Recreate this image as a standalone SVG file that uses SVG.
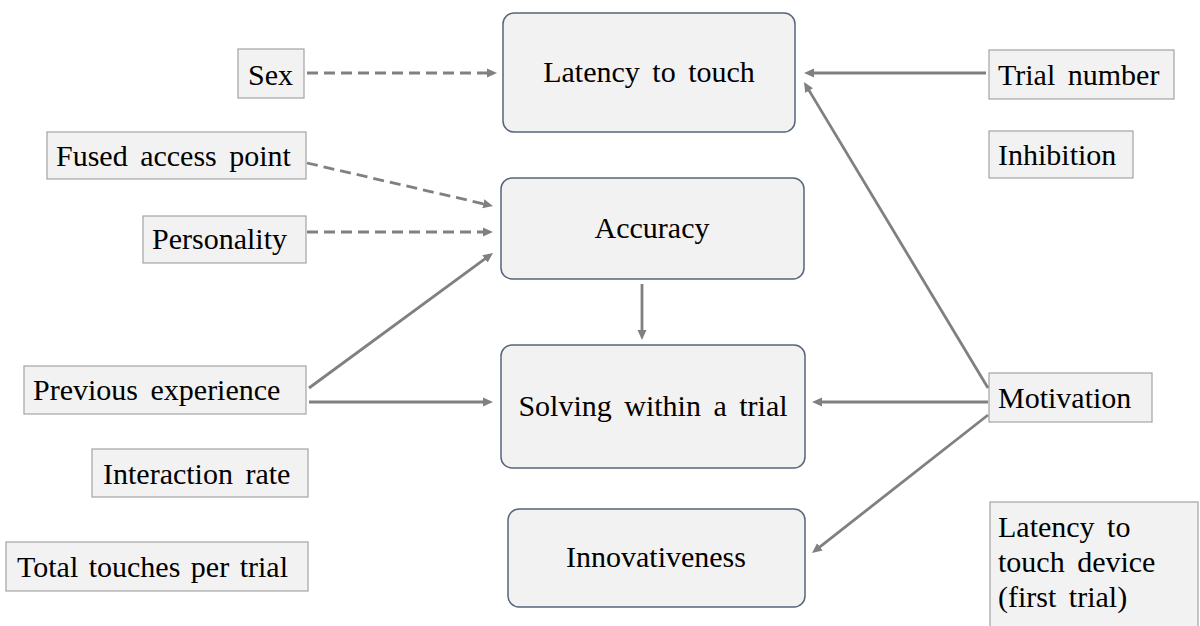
<svg xmlns="http://www.w3.org/2000/svg" width="1200" height="626" viewBox="0 0 1200 626">
  <style>
    text { font-family: 'Times New Roman', 'Liberation Serif', serif; font-size: 30px; fill: #000; word-spacing: 5px; }
    .main rect { fill: #f2f2f2; stroke: #56657a; stroke-width: 1.5; }
    .main text { text-anchor: middle; }
    .var rect { fill: #f2f2f2; stroke: #a3a3a3; stroke-width: 1.2; }
    .edge { stroke: #808080; stroke-width: 2.8; fill: none; marker-end: url(#head); }
    .dash { stroke-dasharray: 11 6; }
    .tight { word-spacing: 3px; }
  </style>
  <defs>
    <marker id="head" markerUnits="userSpaceOnUse" markerWidth="11" markerHeight="10" refX="2" refY="5" orient="auto">
      <path d="M0,0.5 L10,5 L0,9.5 z" fill="#808080"/>
    </marker>
  </defs>

  <rect width="1200" height="626" fill="#ffffff"/>

  <!-- outcome boxes -->
  <g id="latency" class="main">
    <rect x="503" y="13" width="292" height="119" rx="11"/>
    <text x="649" y="82">Latency to touch</text>
  </g>
  <g id="accuracy" class="main">
    <rect x="501" y="178" width="303" height="101" rx="11"/>
    <text x="652" y="238">Accuracy</text>
  </g>
  <g id="solving" class="main">
    <rect x="501" y="345" width="304" height="123" rx="11"/>
    <text x="653" y="416">Solving within a trial</text>
  </g>
  <g id="innovativeness" class="main">
    <rect x="508" y="509" width="297" height="98" rx="11"/>
    <text x="656" y="567">Innovativeness</text>
  </g>

  <!-- predictor boxes, left -->
  <g id="sex" class="var">
    <rect x="238" y="49" width="66" height="49"/>
    <text x="248" y="85">Sex</text>
  </g>
  <g id="fused" class="var">
    <rect x="47" y="132" width="259" height="47"/>
    <text x="56" y="166">Fused access point</text>
  </g>
  <g id="personality" class="var">
    <rect x="143" y="216" width="163" height="47"/>
    <text x="152" y="249">Personality</text>
  </g>
  <g id="previous" class="var">
    <rect x="24" y="366" width="282" height="48"/>
    <text x="33" y="400">Previous experience</text>
  </g>
  <g id="interaction" class="var">
    <rect x="92" y="449" width="216" height="48"/>
    <text x="103" y="484">Interaction rate</text>
  </g>
  <g id="touches" class="var">
    <rect x="6" y="542" width="302" height="49"/>
    <text class="tight" x="17" y="577">Total touches per trial</text>
  </g>

  <!-- predictor boxes, right -->
  <g id="trial" class="var">
    <rect x="989" y="50" width="185" height="49"/>
    <text x="998" y="85">Trial number</text>
  </g>
  <g id="inhibition" class="var">
    <rect x="989" y="131" width="144" height="47"/>
    <text x="998" y="165">Inhibition</text>
  </g>
  <g id="motivation" class="var">
    <rect x="989" y="373" width="163" height="49"/>
    <text x="998" y="408">Motivation</text>
  </g>
  <g id="firstlatency" class="var">
    <rect x="990" y="502" width="208" height="140"/>
    <text x="998" y="537">Latency to</text>
    <text x="998" y="572">touch device</text>
    <text x="998" y="607">(first trial)</text>
  </g>

  <!-- connectors -->
  <g id="connectors">
    <line class="edge dash" x1="307" y1="73" x2="489" y2="73"/>
    <line class="edge dash" x1="307" y1="163" x2="485.2" y2="204.2"/>
    <line class="edge dash" x1="307" y1="232" x2="485" y2="232"/>
    <line class="edge" x1="309" y1="388" x2="486.6" y2="257.7"/>
    <line class="edge" x1="309" y1="402" x2="485" y2="402"/>
    <line class="edge" x1="642" y1="284" x2="642" y2="332"/>
    <line class="edge" x1="986" y1="73" x2="812" y2="73"/>
    <line class="edge" x1="988" y1="388" x2="808.1" y2="88.9"/>
    <line class="edge" x1="988" y1="402" x2="820" y2="402"/>
    <line class="edge" x1="988" y1="415" x2="818.3" y2="548.1"/>
  </g>
</svg>
